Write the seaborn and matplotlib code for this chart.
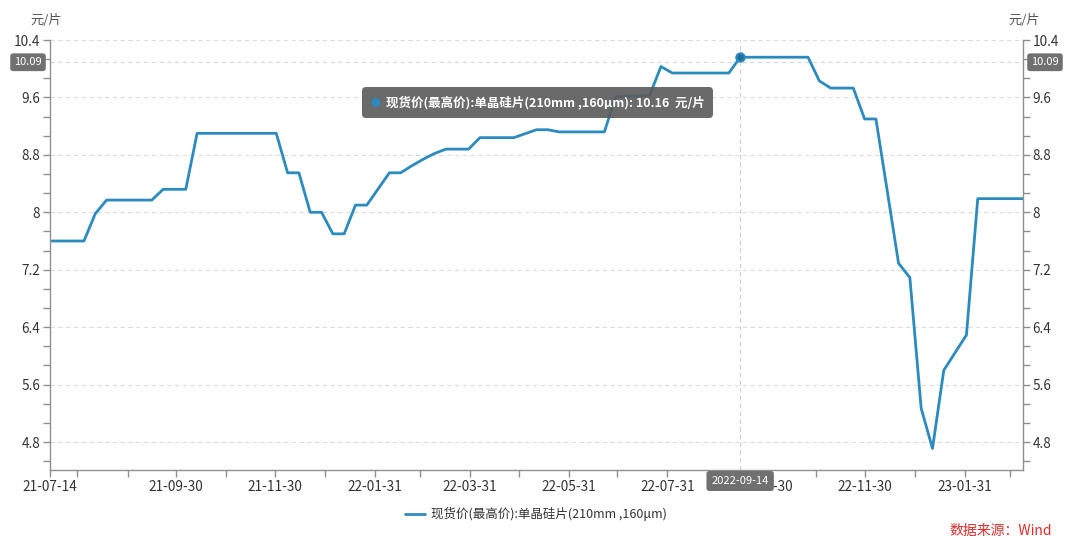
import pandas as pd
import seaborn as sns
import matplotlib
matplotlib.use('Agg')
import matplotlib.pyplot as plt
import matplotlib.dates as mdates
from matplotlib.ticker import AutoMinorLocator
from matplotlib.patches import FancyBboxPatch
from matplotlib.transforms import IdentityTransform, blended_transform_factory

# weekly quotes (Wednesdays), holiday weeks have no quote
weeks = pd.date_range('2021-07-14', '2023-03-08', freq='7D')
holiday_weeks = ['2022-02-02', '2022-05-04', '2022-10-05', '2023-01-25']
price = [7.60, 7.60, 7.60, 7.60, 7.98, 8.17, 8.17, 8.17, 8.17, 8.17,
         8.32, 8.32, 8.32, 9.10, 9.10, 9.10, 9.10, 9.10, 9.10, 9.10,
         9.10, 8.55, 8.55, 8.00, 8.00, 7.70, 7.70, 8.10, 8.10,
         8.55, 8.55, 8.65, 8.74, 8.82, 8.88, 8.88, 8.88, 9.04, 9.04,
         9.04, 9.04,
         9.15, 9.15, 9.12, 9.12, 9.12, 9.12, 9.12, 9.61, 9.62, 9.62,
         9.63, 10.03, 9.94, 9.94, 9.94, 9.94, 9.94, 9.94, 10.16, 10.16,
         10.16,
         10.16, 10.16, 10.16, 9.83, 9.73, 9.73, 9.73, 9.30, 9.30, 8.30,
         7.29, 7.09, 5.27, 4.71, 5.80,
         6.29, 8.19, 8.19, 8.19, 8.19, 8.19]

major_dates = ['2021-07-14', '2021-09-30', '2021-11-30', '2022-01-31', '2022-03-31',
               '2022-05-31', '2022-07-31', '2022-09-30', '2022-11-30', '2023-01-31']
y_ticks = [4.8, 5.6, 6.4, 7.2, 8.0, 8.8, 9.6, 10.4]
y_tick_labels = ['4.8', '5.6', '6.4', '7.2', '8', '8.8', '9.6', '10.4']

hover_date = '2022-09-14'
hover_y = 10.09
series_name = '现货价(最高价):单晶硅片(210mm ,160μm)'
unit = '元/片'
source = '数据来源：Wind'

dates = weeks[~weeks.isin(pd.to_datetime(holiday_weeks))]
df = pd.DataFrame({'date': dates, 'price': price})

sns.set_theme(style='white')
plt.rcParams['font.family'] = ['Noto Sans CJK SC', 'DejaVu Sans']
plt.rcParams['axes.unicode_minus'] = False

W, H = 1080, 540
blue = '#2b8bbf'
axis_grey = '#8f8f8f'
badge_grey = '#707070'

fig = plt.figure(figsize=(10.8, 5.4), dpi=100)
ax = fig.add_axes([50 / W, 70 / H, 973 / W, 430 / H])

sns.lineplot(data=df, x='date', y='price', ax=ax, color=blue, linewidth=2.0,
             label=series_name, legend=False)

ax.set_xlim(pd.Timestamp('2021-07-14'), pd.Timestamp('2023-03-08'))
ax.set_ylim(4.41, 10.4)
ax.set_xlabel('')
ax.set_ylabel('')

ax.set_yticks(y_ticks, y_tick_labels)
ax.yaxis.set_minor_locator(AutoMinorLocator(3))
ax.set_xticks(pd.to_datetime(major_dates))
ax.xaxis.set_major_formatter(mdates.DateFormatter('%y-%m-%d'))
ax.set_xticks(pd.date_range('2021-07-31', '2023-02-28', freq='ME'), minor=True)

ax.tick_params(axis='both', which='both', direction='out', color=axis_grey,
               length=5, width=1, labelsize=9.8, labelcolor='#333333', pad=2)
ax.tick_params(axis='y', which='both', left=True, right=True, labelright=True)
ax.tick_params(axis='x', which='both', bottom=True)

for side in ['left', 'right', 'bottom']:
    ax.spines[side].set_visible(True)
    ax.spines[side].set_color(axis_grey)
    ax.spines[side].set_linewidth(1)
ax.spines['top'].set_visible(False)

ax.grid(axis='y', which='major', color='#dddddd', linestyle=(0, (4, 3)), linewidth=0.8)

# crosshair on the hovered point
hover_ts = pd.Timestamp(hover_date)
ax.axvline(hover_ts, color='#cfcfcf', linestyle=(0, (4, 3)), linewidth=0.8, zorder=1)
ax.axhline(hover_y, color='#d8d8d8', linestyle=(0, (4, 3)), linewidth=0.8, zorder=1)
row = df[df['date'] == hover_ts]
ax.scatter(row['date'], row['price'], s=36, color='#1f6d9c', edgecolor=blue,
           linewidth=1.5, zorder=5)

badge = dict(boxstyle='round,pad=0.35,rounding_size=0.25', fc=badge_grey, ec='none')
ty = blended_transform_factory(ax.transAxes, ax.transData)
ax.text(-22 / 973, hover_y, f'{hover_y:.2f}', transform=ty, ha='center', va='center',
        fontsize=8, color='white', bbox=badge, clip_on=False, zorder=6)
ax.text(1 + 22 / 973, hover_y, f'{hover_y:.2f}', transform=ty, ha='center', va='center',
        fontsize=8, color='white', bbox=badge, clip_on=False, zorder=6)
tx = blended_transform_factory(ax.transData, ax.transAxes)
ax.text(hover_ts, -11 / 430, hover_ts.strftime('%Y-%m-%d'), transform=tx,
        ha='center', va='center', fontsize=8, color='white',
        bbox=dict(boxstyle='round,pad=0.45,rounding_size=0.25', fc=badge_grey, ec='none'),
        clip_on=False, zorder=6)

# tooltip
tip = FancyBboxPatch((362, H - 118), 351, 31, boxstyle='round,pad=0,rounding_size=4',
                     transform=IdentityTransform(), fc='#5a5a5a', ec='none', alpha=0.9, zorder=10)
fig.add_artist(tip)
fig.text(375 / W, 1 - 102.5 / H, '●', color=blue, fontsize=7, ha='center', va='center', zorder=11)
value = row['price'].iloc[0]
fig.text(386 / W, 1 - 102.5 / H, f'{series_name}: {value:.2f}  {unit}', color='white',
         fontweight='bold', fontsize=9, ha='left', va='center', zorder=11)

# units on both axes
fig.text(46 / W, 1 - 20 / H, unit, ha='center', va='center', fontsize=9.5, color='#555555')
fig.text(1024 / W, 1 - 20 / H, unit, ha='center', va='center', fontsize=9.5, color='#555555')

handles, labels = ax.get_legend_handles_labels()
fig.legend(handles, labels, loc='center', bbox_to_anchor=(536 / W, 1 - 514 / H),
           frameon=False, fontsize=9, handlelength=1.6, handletextpad=0.5,
           labelcolor='#333333')

fig.text(1052 / W, 1 - 531 / H, source, ha='right', va='center', fontsize=10, color='#e02b2b')

fig.savefig('out.png', dpi=100)
